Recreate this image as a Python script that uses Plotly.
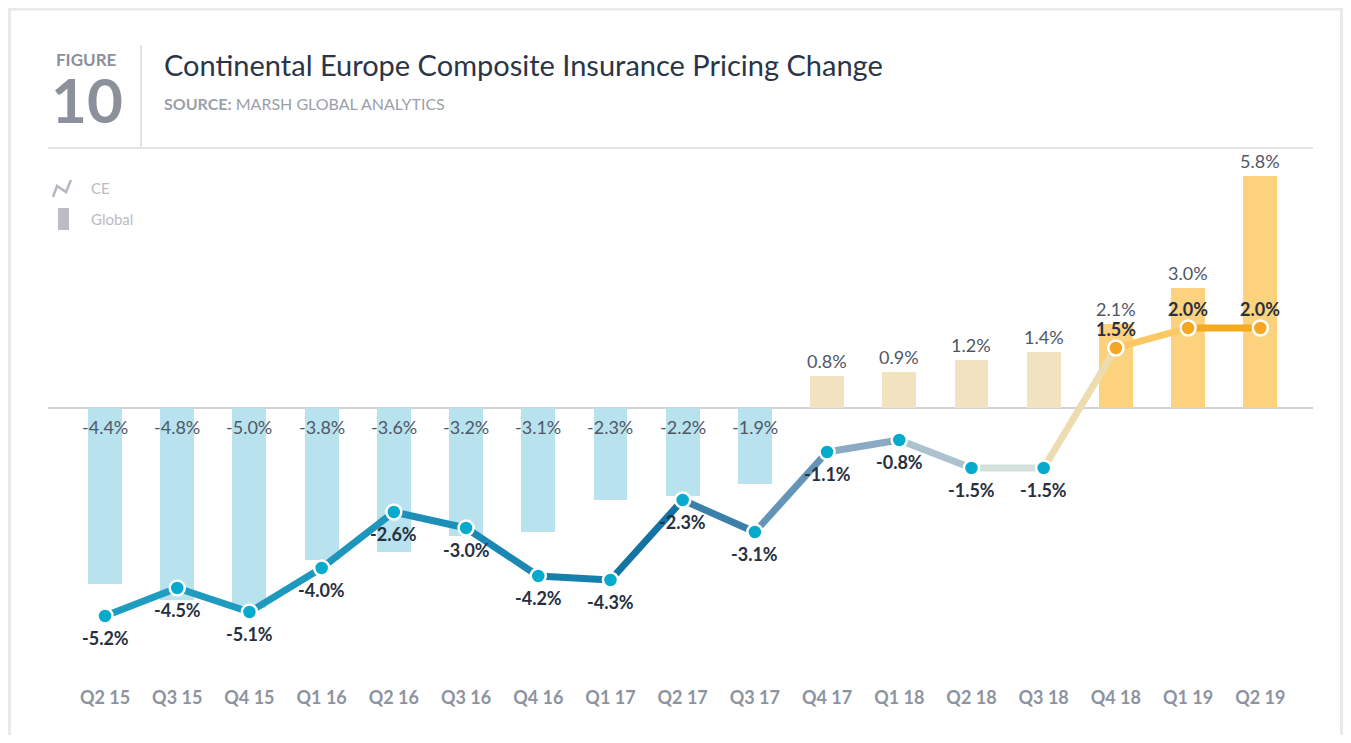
import plotly.graph_objects as go

# Data
quarters = ["Q2 15", "Q3 15", "Q4 15", "Q1 16", "Q2 16", "Q3 16", "Q4 16", "Q1 17", "Q2 17",
            "Q3 17", "Q4 17", "Q1 18", "Q2 18", "Q3 18", "Q4 18", "Q1 19", "Q2 19"]
ce_change = [-5.2, -4.5, -5.1, -4.0, -2.6, -3.0, -4.2, -4.3, -2.3, -3.1, -1.1, -0.8, -1.5, -1.5, 1.5, 2.0, 2.0]
global_change = [-4.4, -4.8, -5.0, -3.8, -3.6, -3.2, -3.1, -2.3, -2.2, -1.9, 0.8, 0.9, 1.2, 1.4, 2.1, 3.0, 5.8]

# styling
FONT = "Lato, 'Open Sans', sans-serif"
OFF = 8  # the page body adds an 8px margin around the figure
W, H = 1351 - 2 * OFF, 743 - 2 * OFF  # keep it inside the window so no scrollbars show
L, R, T, B = 40, 30, 152, 50
PW, PH = W - L - R, H - T - B

bar_colors = ["#b8e2ee"] * 10 + ["#f2e3c0"] * 4 + ["#fcd27e"] * 3
seg_colors = ["#1f9dc1", "#1f9bc0", "#1f98be", "#1e95bc", "#1d8fb8", "#1b88b3", "#167fac", "#1373a3",
              "#3a80ab", "#6495b9", "#8aa9c3", "#adc2cf", "#d4e0dc", "#ecdcb0", "#fbc864", "#f5a91f"]
marker_colors = ["#05aacd"] * 14 + ["#f5a623"] * 3


# screen pixel -> paper coordinates
def px_x(p):
    return (p - OFF - L) / PW


def px_y(p):
    return (H - B - (p - OFF)) / PH


fig = go.Figure()

fig.add_trace(go.Bar(
    x=quarters, y=global_change, marker=dict(color=bar_colors, line=dict(width=0)),
    width=0.47, hoverinfo="skip", showlegend=False,
))

# CE line, one segment per quarter pair so the colour can shift along it
for i in range(len(quarters) - 1):
    fig.add_trace(go.Scatter(
        x=quarters[i:i + 2], y=ce_change[i:i + 2], mode="lines",
        line=dict(color=seg_colors[i], width=7), hoverinfo="skip", showlegend=False,
    ))

fig.add_trace(go.Scatter(
    x=quarters, y=ce_change, mode="markers",
    marker=dict(size=15, color=marker_colors, line=dict(color="white", width=2.5)),
    showlegend=False,
))

annotations = []
# global labels: under the axis for negative bars, above the bar for positive ones
for q, v in zip(quarters, global_change):
    annotations.append(dict(
        x=q, y=v if v > 0 else 0, text=f"{v:.1f}%", xref="x", yref="y",
        yshift=-19 if v < 0 else 15, showarrow=False,
        font=dict(family=FONT, size=18, color="#4f5766"),
    ))
# CE labels
for q, v in zip(quarters, ce_change):
    annotations.append(dict(
        x=q, y=v, text=f"<b>{v:.1f}%</b>", xref="x", yref="y",
        yshift=-22 if v < 0 else 19, showarrow=False,
        font=dict(family=FONT, size=18, color="#27303f"),
    ))

header = [
    dict(text="<b>FIGURE</b>", x=px_x(86), y=px_y(59), font=dict(family=FONT, size=17, color="#8b909a")),
    dict(text="<b>10</b>", x=px_x(87), y=px_y(99), font=dict(family=FONT, size=62, color="#8b909a")),
    dict(text="Continental Europe Composite Insurance Pricing Change", x=px_x(162), y=px_y(65),
         xanchor="left", font=dict(family=FONT, size=29, color="#2a3547")),
    dict(text="<b>SOURCE:</b> MARSH GLOBAL ANALYTICS", x=px_x(162), y=px_y(104),
         xanchor="left", font=dict(family=FONT, size=16, color="#9aa0aa")),
    dict(text="CE", x=px_x(89), y=px_y(188), xanchor="left", font=dict(family=FONT, size=15, color="#b9bcc2")),
    dict(text="Global", x=px_x(89), y=px_y(219), xanchor="left", font=dict(family=FONT, size=15, color="#b9bcc2")),
]
for a in header:
    a.update(xref="paper", yref="paper", showarrow=False, yanchor="middle")
    a.setdefault("xanchor", "center")
annotations += header

shapes = [
    # card border
    dict(type="rect", xref="paper", yref="paper", x0=px_x(9.5), x1=px_x(1341.5), y0=px_y(900), y1=px_y(9),
         line=dict(color="#e9e9e9", width=3), layer="below"),
    # header separators
    dict(type="line", xref="paper", yref="paper", x0=px_x(48), x1=px_x(1313), y0=px_y(148), y1=px_y(148),
         line=dict(color="#e4e4e4", width=2)),
    dict(type="line", xref="paper", yref="paper", x0=px_x(141), x1=px_x(141), y0=px_y(45), y1=px_y(148),
         line=dict(color="#e4e4e4", width=2)),
    # legend icons
    dict(type="path", xref="paper", yref="paper",
         path=f"M {px_x(53)} {px_y(197)} L {px_x(57)} {px_y(186)} L {px_x(66)} {px_y(192)} L {px_x(71)} {px_y(180)}",
         line=dict(color="#b5b8be", width=2.5)),
    dict(type="rect", xref="paper", yref="paper", x0=px_x(58), x1=px_x(69), y0=px_y(230), y1=px_y(208),
         fillcolor="#bbbdc2", line=dict(width=0)),
]

fig.update_layout(
    width=W, height=H,
    margin=dict(l=L, r=R, t=T, b=B),
    plot_bgcolor="white", paper_bgcolor="white",
    shapes=shapes, annotations=annotations,
    xaxis=dict(range=[-0.79, 16.73], showgrid=False, showline=False, ticks="",
               tickfont=dict(family=FONT, size=18, color="#8d93a0", weight="bold")),
    yaxis=dict(range=[-6.925, 6.2], showgrid=False, showticklabels=False, zeroline=True,
               zerolinecolor="#d3d3d3", zerolinewidth=1.5),
    bargap=0, font=dict(family=FONT),
)

fig.write_html("out.html")
